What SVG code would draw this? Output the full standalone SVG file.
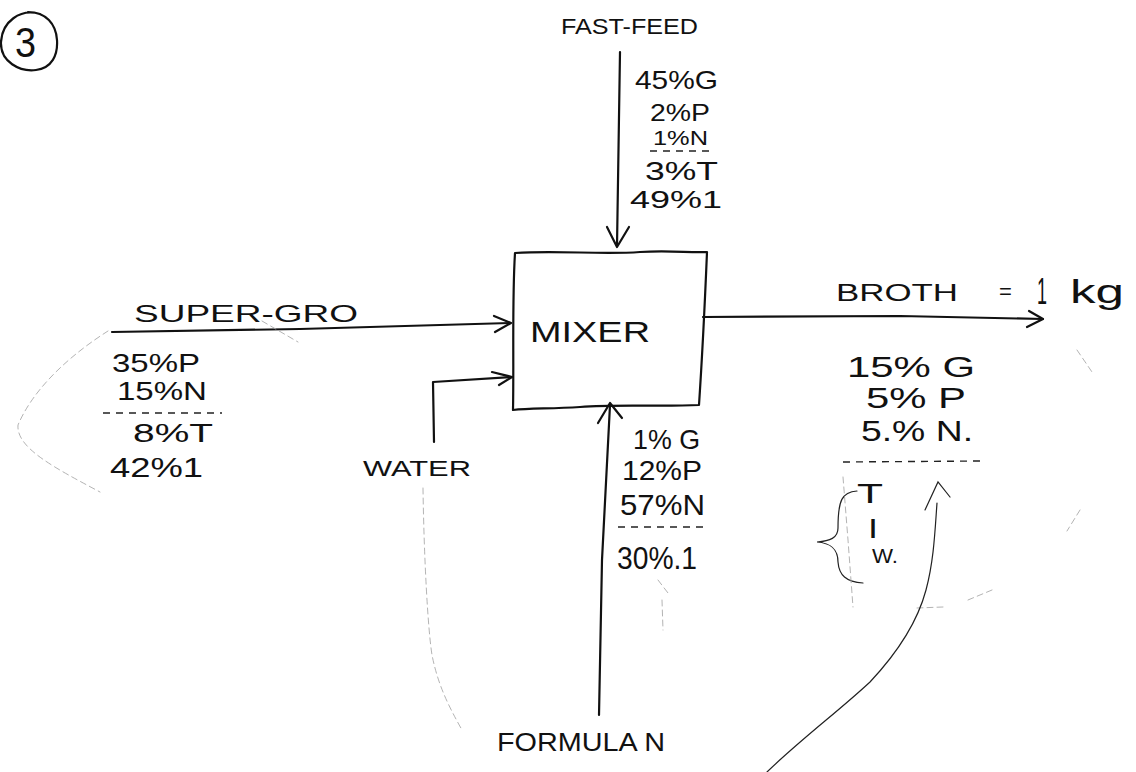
<svg xmlns="http://www.w3.org/2000/svg" width="1136" height="772" viewBox="0 0 1136 772">
<defs>
<style>
.ink{fill:none;stroke:#111;stroke-width:2.2;stroke-linecap:round;stroke-linejoin:round}
.thin{fill:none;stroke:#222;stroke-width:1.2;stroke-linecap:round}
.faint{fill:none;stroke:#aaa;stroke-width:0.9;stroke-linecap:round;stroke-dasharray:6 4}
.dash{fill:none;stroke:#222;stroke-width:1.4;stroke-dasharray:7 6}
.t{font-family:"Liberation Sans",Arial,sans-serif;fill:#111}
</style>
</defs>
<rect width="1136" height="772" fill="#fff"/>

<g id="label-3">
<path class="ink" d="M40,14 C20,8 2,22 1,42 C0,62 20,72 36,70 C52,68 58,55 57,40 C56,24 46,12 28,12"/>
<text class="t" x="15" y="57" font-size="42" textLength="21" lengthAdjust="spacingAndGlyphs">3</text>
</g>

<g id="connectors">
<!-- Fast-feed -->
<path class="ink" d="M620,52 L617,246"/>
<path class="ink" d="M607,227 L617,247 L629,227"/>
<!-- Super-gro -->
<path class="ink" d="M112,332 L300,329 L510,323"/>
<path class="ink" d="M494,316 L511,323 L495,332"/>
<!-- Water -->
<path class="ink" d="M434,442 L433,382 L512,377"/>
<path class="ink" d="M492,372 L512,377 L499,385"/>
<!-- Formula N -->
<path class="ink" d="M599,715 L602,560 L610,405"/>
<path class="ink" d="M598,423 L610,403 L622,418"/>
<!-- Broth -->
<path class="ink" d="M703,317 L900,316 L1043,319"/>
<path class="ink" d="M1029,311 L1043,319 L1027,327"/>
</g>

<g id="mixer">
<path class="ink" d="M515,253 C560,250 600,255 640,252 C670,250 690,253 707,252 C705,300 702,360 699,405 C660,407 620,404 580,407 C550,409 530,408 513,410 C514,360 512,300 515,253 Z"/>
<text class="t" x="530" y="342" font-size="30" textLength="120" lengthAdjust="spacingAndGlyphs">MIXER</text>
</g>

<g id="fast-feed">
<text class="t" x="561" y="34" font-size="22" textLength="137" lengthAdjust="spacingAndGlyphs">FAST-FEED</text>
<text class="t" x="635" y="89" font-size="26" textLength="83" lengthAdjust="spacingAndGlyphs">45%G</text>
<text class="t" x="650" y="121" font-size="24" textLength="60" lengthAdjust="spacingAndGlyphs">2%P</text>
<text class="t" x="653" y="145" font-size="20" textLength="55" lengthAdjust="spacingAndGlyphs">1%N</text>
<path class="dash" d="M650,151 L710,151"/>
<text class="t" x="645" y="180" font-size="26" textLength="73" lengthAdjust="spacingAndGlyphs">3%T</text>
<text class="t" x="630" y="208" font-size="24" textLength="92" lengthAdjust="spacingAndGlyphs">49%1</text>
</g>

<g id="super-gro">
<text class="t" x="134" y="322" font-size="24" textLength="224" lengthAdjust="spacingAndGlyphs">SUPER-GRO</text>
<text class="t" x="112" y="372" font-size="26" textLength="88" lengthAdjust="spacingAndGlyphs">35%P</text>
<text class="t" x="117" y="400" font-size="26" textLength="90" lengthAdjust="spacingAndGlyphs">15%N</text>
<path class="dash" d="M103,413 L222,413"/>
<text class="t" x="133" y="442" font-size="26" textLength="80" lengthAdjust="spacingAndGlyphs">8%T</text>
<text class="t" x="110" y="477" font-size="28" textLength="93" lengthAdjust="spacingAndGlyphs">42%1</text>
</g>

<g id="water">
<text class="t" x="363" y="476" font-size="22" textLength="108" lengthAdjust="spacingAndGlyphs">WATER</text>
</g>

<g id="formula-n">
<text class="t" x="633" y="449" font-size="28" textLength="67" lengthAdjust="spacingAndGlyphs">1% G</text>
<text class="t" x="622" y="480" font-size="28" textLength="80" lengthAdjust="spacingAndGlyphs">12%P</text>
<text class="t" x="620" y="515" font-size="30" textLength="85" lengthAdjust="spacingAndGlyphs">57%N</text>
<path class="dash" d="M618,527 L706,527"/>
<text class="t" x="617" y="569" font-size="32" textLength="80" lengthAdjust="spacingAndGlyphs">30%.1</text>
<text class="t" x="497" y="751" font-size="26" textLength="168" lengthAdjust="spacingAndGlyphs">FORMULA N</text>
</g>

<g id="broth">
<text class="t" x="836" y="301" font-size="24" textLength="122" lengthAdjust="spacingAndGlyphs">BROTH</text>
<text class="t" x="999" y="299" font-size="22">=</text>
<text class="t" x="1037" y="304" font-size="36" textLength="10" lengthAdjust="spacingAndGlyphs">1</text>
<text class="t" x="1070" y="303" font-size="34" textLength="54" lengthAdjust="spacingAndGlyphs">kg</text>
<text class="t" x="847" y="377" font-size="30" textLength="128" lengthAdjust="spacingAndGlyphs">15% G</text>
<text class="t" x="866" y="408" font-size="30" textLength="100" lengthAdjust="spacingAndGlyphs">5% P</text>
<text class="t" x="861" y="441" font-size="30" textLength="112" lengthAdjust="spacingAndGlyphs">5.% N.</text>
<path class="dash" d="M843,462 L982,461"/>
<text class="t" x="857" y="503" font-size="28" textLength="26" lengthAdjust="spacingAndGlyphs">T</text>
<text class="t" x="868" y="538" font-size="28" textLength="10" lengthAdjust="spacingAndGlyphs">I</text>
<text class="t" x="872" y="563" font-size="20" textLength="26" lengthAdjust="spacingAndGlyphs">W.</text>
<path class="thin" d="M857,491 C842,492 838,500 838,528 C838,538 830,541 817,542 C830,543 838,548 838,562 C839,575 846,582 863,583"/>
</g>

<g id="pencil-traces">
<path class="faint" d="M108,331 C75,352 35,385 18,425 C16,448 55,468 100,492"/>
<path class="faint" d="M262,321 L298,342"/>
<path class="faint" d="M423,488 C424,560 428,630 432,655 C438,685 448,705 462,730"/>
<path class="faint" d="M658,580 L668,593 M662,600 L663,630"/>
<path class="faint" d="M843,477 L848,540 L853,607"/>
<path class="faint" d="M917,608 L943,607 M968,600 L992,590"/>
<path class="faint" d="M1077,350 L1092,372"/>
<path class="faint" d="M1080,510 L1067,531"/>
<path class="thin" d="M767,772 C800,740 840,710 870,682 C900,650 918,620 926,590 C934,560 935,530 937,503" stroke="#444"/>
<path class="thin" d="M925,510 L938,482 L950,497" stroke="#666"/>
</g>
</svg>
